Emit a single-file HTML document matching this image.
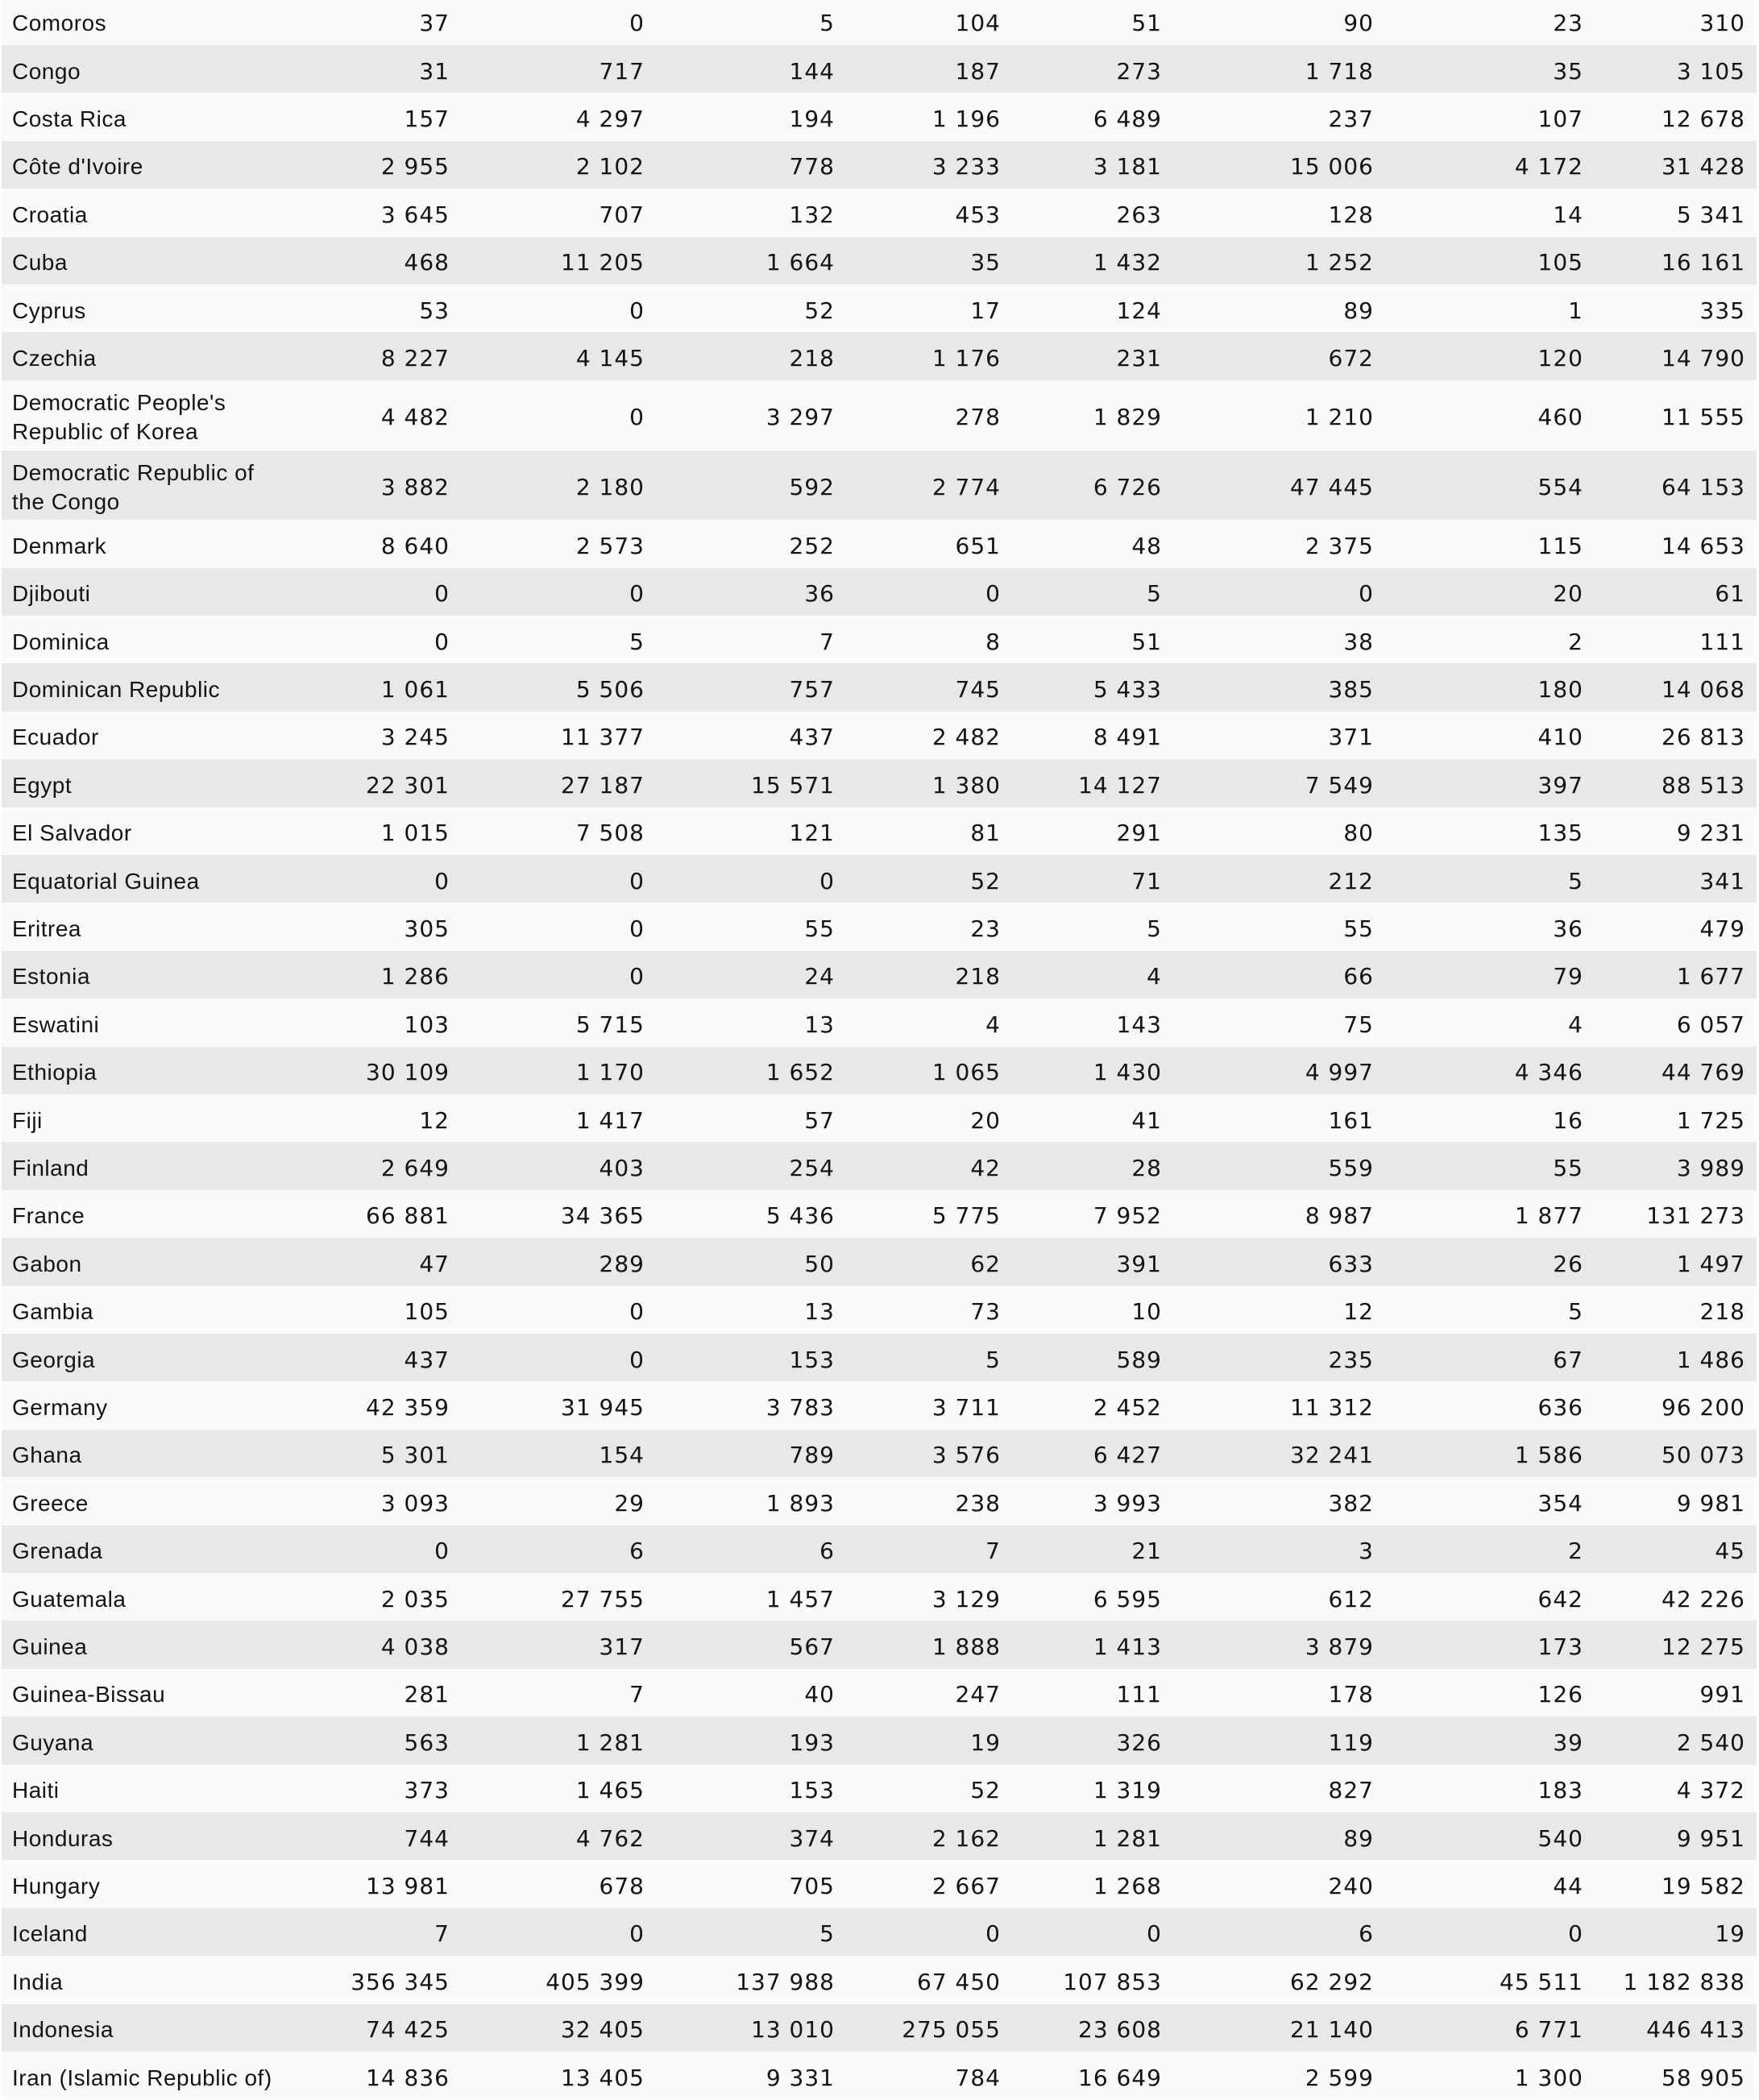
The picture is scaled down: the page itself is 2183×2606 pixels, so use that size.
<!DOCTYPE html>
<html>
<head>
<meta charset="utf-8">
<style>
html,body{margin:0;padding:0;background:#ffffff;}
body{width:2183px;height:2606px;position:relative;overflow:hidden;color:#141414;}
.r{position:absolute;left:2px;width:2178px;height:59.4px;}
.r.d{height:86.7px;}
.w{background:#fafafa;}
.g{background:#e8e8e8;}
.n{position:absolute;left:13px;top:18.6px;font-family:"Liberation Sans",sans-serif;font-size:28px;line-height:28px;letter-spacing:0.5px;white-space:nowrap;}
.d .n{top:10.3px;line-height:36px;}
.r span{position:absolute;top:18.6px;font-family:"DejaVu Sans",sans-serif;font-size:28px;line-height:28px;letter-spacing:1px;white-space:nowrap;text-align:right;}
.d span{top:32.3px;}
.r span:nth-of-type(1){right:1622px;}
.r span:nth-of-type(2){right:1380px;}
.r span:nth-of-type(3){right:1144px;}
.r span:nth-of-type(4){right:938px;}
.r span:nth-of-type(5){right:738px;}
.r span:nth-of-type(6){right:475px;}
.r span:nth-of-type(7){right:215px;}
.r span:nth-of-type(8){right:14px;}
</style>
</head>
<body>
<div class="r w" style="top:-3.4px"><div class="n">Comoros</div><span>37</span><span>0</span><span>5</span><span>104</span><span>51</span><span>90</span><span>23</span><span>310</span></div>
<div class="r g" style="top:56px"><div class="n">Congo</div><span>31</span><span>717</span><span>144</span><span>187</span><span>273</span><span>1 718</span><span>35</span><span>3 105</span></div>
<div class="r w" style="top:115.4px"><div class="n">Costa Rica</div><span>157</span><span>4 297</span><span>194</span><span>1 196</span><span>6 489</span><span>237</span><span>107</span><span>12 678</span></div>
<div class="r g" style="top:174.8px"><div class="n">Côte d'Ivoire</div><span>2 955</span><span>2 102</span><span>778</span><span>3 233</span><span>3 181</span><span>15 006</span><span>4 172</span><span>31 428</span></div>
<div class="r w" style="top:234.2px"><div class="n">Croatia</div><span>3 645</span><span>707</span><span>132</span><span>453</span><span>263</span><span>128</span><span>14</span><span>5 341</span></div>
<div class="r g" style="top:293.6px"><div class="n">Cuba</div><span>468</span><span>11 205</span><span>1 664</span><span>35</span><span>1 432</span><span>1 252</span><span>105</span><span>16 161</span></div>
<div class="r w" style="top:353px"><div class="n">Cyprus</div><span>53</span><span>0</span><span>52</span><span>17</span><span>124</span><span>89</span><span>1</span><span>335</span></div>
<div class="r g" style="top:412.4px"><div class="n">Czechia</div><span>8 227</span><span>4 145</span><span>218</span><span>1 176</span><span>231</span><span>672</span><span>120</span><span>14 790</span></div>
<div class="r w d" style="top:471.8px"><div class="n">Democratic People's<br>Republic of Korea</div><span>4 482</span><span>0</span><span>3 297</span><span>278</span><span>1 829</span><span>1 210</span><span>460</span><span>11 555</span></div>
<div class="r g d" style="top:558.5px"><div class="n">Democratic Republic of<br>the Congo</div><span>3 882</span><span>2 180</span><span>592</span><span>2 774</span><span>6 726</span><span>47 445</span><span>554</span><span>64 153</span></div>
<div class="r w" style="top:645.2px"><div class="n">Denmark</div><span>8 640</span><span>2 573</span><span>252</span><span>651</span><span>48</span><span>2 375</span><span>115</span><span>14 653</span></div>
<div class="r g" style="top:704.6px"><div class="n">Djibouti</div><span>0</span><span>0</span><span>36</span><span>0</span><span>5</span><span>0</span><span>20</span><span>61</span></div>
<div class="r w" style="top:764px"><div class="n">Dominica</div><span>0</span><span>5</span><span>7</span><span>8</span><span>51</span><span>38</span><span>2</span><span>111</span></div>
<div class="r g" style="top:823.4px"><div class="n">Dominican Republic</div><span>1 061</span><span>5 506</span><span>757</span><span>745</span><span>5 433</span><span>385</span><span>180</span><span>14 068</span></div>
<div class="r w" style="top:882.8px"><div class="n">Ecuador</div><span>3 245</span><span>11 377</span><span>437</span><span>2 482</span><span>8 491</span><span>371</span><span>410</span><span>26 813</span></div>
<div class="r g" style="top:942.2px"><div class="n">Egypt</div><span>22 301</span><span>27 187</span><span>15 571</span><span>1 380</span><span>14 127</span><span>7 549</span><span>397</span><span>88 513</span></div>
<div class="r w" style="top:1001.6px"><div class="n">El Salvador</div><span>1 015</span><span>7 508</span><span>121</span><span>81</span><span>291</span><span>80</span><span>135</span><span>9 231</span></div>
<div class="r g" style="top:1061px"><div class="n">Equatorial Guinea</div><span>0</span><span>0</span><span>0</span><span>52</span><span>71</span><span>212</span><span>5</span><span>341</span></div>
<div class="r w" style="top:1120.4px"><div class="n">Eritrea</div><span>305</span><span>0</span><span>55</span><span>23</span><span>5</span><span>55</span><span>36</span><span>479</span></div>
<div class="r g" style="top:1179.8px"><div class="n">Estonia</div><span>1 286</span><span>0</span><span>24</span><span>218</span><span>4</span><span>66</span><span>79</span><span>1 677</span></div>
<div class="r w" style="top:1239.2px"><div class="n">Eswatini</div><span>103</span><span>5 715</span><span>13</span><span>4</span><span>143</span><span>75</span><span>4</span><span>6 057</span></div>
<div class="r g" style="top:1298.6px"><div class="n">Ethiopia</div><span>30 109</span><span>1 170</span><span>1 652</span><span>1 065</span><span>1 430</span><span>4 997</span><span>4 346</span><span>44 769</span></div>
<div class="r w" style="top:1358px"><div class="n">Fiji</div><span>12</span><span>1 417</span><span>57</span><span>20</span><span>41</span><span>161</span><span>16</span><span>1 725</span></div>
<div class="r g" style="top:1417.4px"><div class="n">Finland</div><span>2 649</span><span>403</span><span>254</span><span>42</span><span>28</span><span>559</span><span>55</span><span>3 989</span></div>
<div class="r w" style="top:1476.8px"><div class="n">France</div><span>66 881</span><span>34 365</span><span>5 436</span><span>5 775</span><span>7 952</span><span>8 987</span><span>1 877</span><span>131 273</span></div>
<div class="r g" style="top:1536.2px"><div class="n">Gabon</div><span>47</span><span>289</span><span>50</span><span>62</span><span>391</span><span>633</span><span>26</span><span>1 497</span></div>
<div class="r w" style="top:1595.6px"><div class="n">Gambia</div><span>105</span><span>0</span><span>13</span><span>73</span><span>10</span><span>12</span><span>5</span><span>218</span></div>
<div class="r g" style="top:1655px"><div class="n">Georgia</div><span>437</span><span>0</span><span>153</span><span>5</span><span>589</span><span>235</span><span>67</span><span>1 486</span></div>
<div class="r w" style="top:1714.4px"><div class="n">Germany</div><span>42 359</span><span>31 945</span><span>3 783</span><span>3 711</span><span>2 452</span><span>11 312</span><span>636</span><span>96 200</span></div>
<div class="r g" style="top:1773.8px"><div class="n">Ghana</div><span>5 301</span><span>154</span><span>789</span><span>3 576</span><span>6 427</span><span>32 241</span><span>1 586</span><span>50 073</span></div>
<div class="r w" style="top:1833.2px"><div class="n">Greece</div><span>3 093</span><span>29</span><span>1 893</span><span>238</span><span>3 993</span><span>382</span><span>354</span><span>9 981</span></div>
<div class="r g" style="top:1892.6px"><div class="n">Grenada</div><span>0</span><span>6</span><span>6</span><span>7</span><span>21</span><span>3</span><span>2</span><span>45</span></div>
<div class="r w" style="top:1952px"><div class="n">Guatemala</div><span>2 035</span><span>27 755</span><span>1 457</span><span>3 129</span><span>6 595</span><span>612</span><span>642</span><span>42 226</span></div>
<div class="r g" style="top:2011.4px"><div class="n">Guinea</div><span>4 038</span><span>317</span><span>567</span><span>1 888</span><span>1 413</span><span>3 879</span><span>173</span><span>12 275</span></div>
<div class="r w" style="top:2070.8px"><div class="n">Guinea-Bissau</div><span>281</span><span>7</span><span>40</span><span>247</span><span>111</span><span>178</span><span>126</span><span>991</span></div>
<div class="r g" style="top:2130.2px"><div class="n">Guyana</div><span>563</span><span>1 281</span><span>193</span><span>19</span><span>326</span><span>119</span><span>39</span><span>2 540</span></div>
<div class="r w" style="top:2189.6px"><div class="n">Haiti</div><span>373</span><span>1 465</span><span>153</span><span>52</span><span>1 319</span><span>827</span><span>183</span><span>4 372</span></div>
<div class="r g" style="top:2249px"><div class="n">Honduras</div><span>744</span><span>4 762</span><span>374</span><span>2 162</span><span>1 281</span><span>89</span><span>540</span><span>9 951</span></div>
<div class="r w" style="top:2308.4px"><div class="n">Hungary</div><span>13 981</span><span>678</span><span>705</span><span>2 667</span><span>1 268</span><span>240</span><span>44</span><span>19 582</span></div>
<div class="r g" style="top:2367.8px"><div class="n">Iceland</div><span>7</span><span>0</span><span>5</span><span>0</span><span>0</span><span>6</span><span>0</span><span>19</span></div>
<div class="r w" style="top:2427.2px"><div class="n">India</div><span>356 345</span><span>405 399</span><span>137 988</span><span>67 450</span><span>107 853</span><span>62 292</span><span>45 511</span><span>1 182 838</span></div>
<div class="r g" style="top:2486.6px"><div class="n">Indonesia</div><span>74 425</span><span>32 405</span><span>13 010</span><span>275 055</span><span>23 608</span><span>21 140</span><span>6 771</span><span>446 413</span></div>
<div class="r w" style="top:2546px"><div class="n">Iran (Islamic Republic of)</div><span>14 836</span><span>13 405</span><span>9 331</span><span>784</span><span>16 649</span><span>2 599</span><span>1 300</span><span>58 905</span></div>
</body>
</html>
